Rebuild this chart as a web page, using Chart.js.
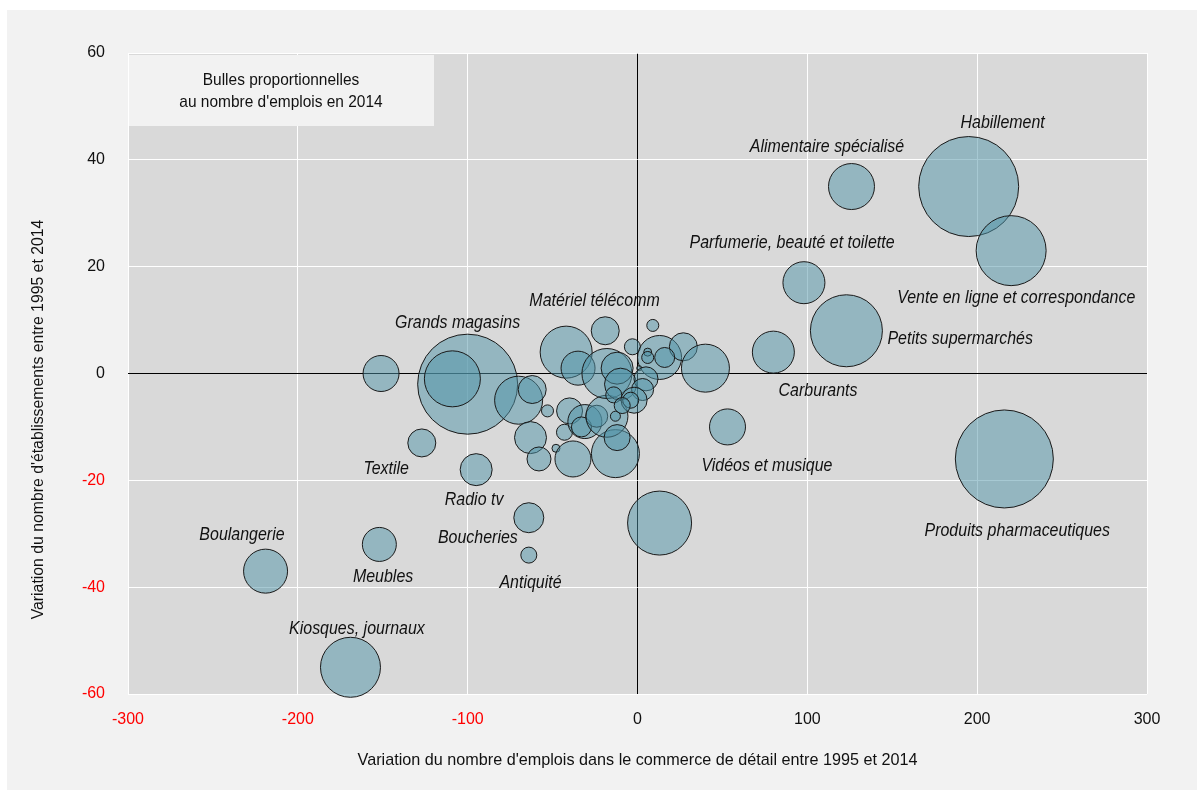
<!DOCTYPE html>
<html lang="fr">
<head>
<meta charset="utf-8">
<script src="https://cdn.jsdelivr.net/npm/chart.js@4/dist/chart.umd.min.js"></script>
<style>
	html, body { margin: 0; padding: 0; background: #ffffff; }
	#wrap { position: absolute; left: 7px; top: 10px; width: 1190px; height: 780px; background: #f2f2f2; }
</style>
</head>
<body>
<div id="wrap"><canvas id="chart" width="1190" height="780"></canvas></div>
<script>
// Variation du nombre d'emplois (x), d'établissements (y), rayon des bulles (emplois 2014)
const jobsChange = [
	195, 220, 126, 98, 123, 80, 216, 53, 13, -100, -109, -151, -127, -95, -219, -152, -169, -64, -64,
	-70, -62, -53, -63, -58, -48, -38, -13, -43, -40, -31, -33, -24, -18, -12, -13,
	-19, -42, -35, -18, -12, -10, -3, 9, 13, 27, 16, 40, 6, 6, 1, 5, 3, -2, -4, -14, -9
];
const estabChange = [
	35, 23, 35, 17, 8, 4, -16, -10, -28, -2, -1, 0, -13, -18, -37, -32, -55, -27, -34,
	-5, -3, -7, -12, -16, -14, -16, -15, -11, -7, -9, -10, -8, -8, -12, -8,
	8, 4, 1, 0, 1, -2, 5, 9, 3, 5, 3, 1, 4, 3, 1, -1, -3, -5, -5, -4, -6
];
const bubbleSize = [
	50, 35, 23, 21, 36, 21, 49, 18, 32, 50, 28, 18, 14, 16, 22, 17, 30, 15, 8,
	24, 14, 6, 16, 12, 4, 18, 24, 8, 13, 17, 10, 11, 21, 13, 5,
	14, 26, 17, 25, 16, 16, 8, 6, 22, 14, 10, 24, 4, 6, 2.5, 12, 11, 13, 8, 8, 8
];

const labelTexts = [
	'Habillement', 'Alimentaire spécialisé', 'Parfumerie, beauté et toilette',
	'Vente en ligne et correspondance', 'Petits supermarchés', 'Carburants',
	'Vidéos et musique', 'Produits pharmaceutiques', 'Matériel télécomm',
	'Grands magasins', 'Textile', 'Radio tv', 'Boulangerie', 'Boucheries',
	'Meubles', 'Antiquité', 'Kiosques, journaux'
];
const labelX = [215, 111.6, 91, 223, 190, 106.3, 76.2, 223.6, -25.3, -105.9, -148, -96.2, -232.9, -94, -149.8, -63, -165.2];
const labelY = [46.9, 42.4, 24.4, 14.1, 6.5, -3.3, -17.3, -29.4, 13.7, 9.6, -17.9, -23.7, -30.2, -30.8, -38.1, -39.2, -47.8];

const xTicks = [-300, -200, -100, 0, 100, 200, 300];
const yTicks = [-60, -40, -20, 0, 20, 40, 60];

const legendLines = ['Bulles proportionnelles', "au nombre d'emplois en 2014"];
const xTitle = "Variation du nombre d'emplois dans le commerce de détail entre 1995 et 2014";
const yTitle = "Variation du nombre d'établissements entre 1995 et 2014";

const FONT = '"Liberation Sans", Arial, sans-serif';

const points = jobsChange.map((x, i) => ({ x, y: estabChange[i], r: bubbleSize[i] }));

// bubbles must not push the plot area inwards (the layout is fixed by the padding below)
Chart.BubbleController.prototype.getMaxOverflow = function () { return 0; };

// condensed text (the original uses a narrow face)
function narrowText(ctx, text, x, y, squeeze) {
	ctx.save();
	ctx.translate(x, y);
	ctx.scale(squeeze, 1);
	ctx.fillText(text, 0, 0);
	ctx.restore();
}

const plotBackground = {
	id: 'plotBackground',
	beforeDraw(chart) {
		const { ctx, chartArea: a } = chart;
		ctx.save();
		ctx.fillStyle = '#d9d9d9';
		ctx.fillRect(a.left, a.top, a.right - a.left, a.bottom - a.top);
		ctx.restore();
	},
	beforeDatasetsDraw(chart) {
		// legend box, top-left corner of the plot
		const { ctx, chartArea: a } = chart;
		ctx.save();
		ctx.fillStyle = '#f2f2f2';
		ctx.fillRect(a.left + 1, a.top + 2, 305, 71);
		ctx.fillStyle = '#111';
		ctx.font = '17px ' + FONT;
		ctx.textAlign = 'center';
		ctx.textBaseline = 'middle';
		narrowText(ctx, legendLines[0], a.left + 153, a.top + 27, 0.91);
		narrowText(ctx, legendLines[1], a.left + 153, a.top + 49, 0.91);
		ctx.restore();
	},
	afterDraw(chart) {
		// y axis title sits a bit below the middle of the axis in the original
		const { ctx, chartArea: a } = chart;
		ctx.save();
		ctx.fillStyle = '#111';
		ctx.font = '15.8px ' + FONT;
		ctx.textAlign = 'center';
		ctx.textBaseline = 'middle';
		ctx.translate(32, (a.top + a.bottom) / 2 + 46);
		ctx.rotate(-Math.PI / 2);
		ctx.fillText(yTitle, 0, 0);
		ctx.restore();
	}
};

const bubbleLabels = {
	id: 'bubbleLabels',
	afterDatasetsDraw(chart) {
		const { ctx, scales: { x, y } } = chart;
		ctx.save();
		ctx.fillStyle = '#111';
		ctx.font = 'italic 19px ' + FONT;
		ctx.textAlign = 'center';
		ctx.textBaseline = 'middle';
		labelTexts.forEach((t, i) => {
			narrowText(ctx, t, x.getPixelForValue(labelX[i]), y.getPixelForValue(labelY[i]), 0.84);
		});
		ctx.restore();
	}
};

const tickColor = (c) => (c.tick && c.tick.value < 0 ? '#ff0000' : '#111111');
const gridColor = (c) => (c.tick && c.tick.value === 0 ? '#000000' : '#ffffff');

new Chart(document.getElementById('chart'), {
	type: 'bubble',
	data: {
		datasets: [{
			data: points,
			backgroundColor: 'rgba(79,147,167,0.5)',
			borderColor: '#1a1a1a',
			borderWidth: 1,
			hoverRadius: 0,
			clip: false
		}]
	},
	options: {
		responsive: false,
		animation: false,
		events: [],
		layout: { padding: { left: 0, top: 43, right: 50, bottom: 0 } },
		plugins: { legend: { display: false }, tooltip: { enabled: false } },
		scales: {
			x: {
				type: 'linear',
				min: -300, max: 300,
				afterBuildTicks: (s) => { s.ticks = xTicks.map(v => ({ value: v })); },
				afterFit: (s) => { s.height = 96; },
				border: { display: false },
				grid: { color: gridColor, lineWidth: 1, drawTicks: false },
				ticks: { color: tickColor, padding: 16, font: { family: FONT, size: 16 } },
				title: {
					display: true, text: xTitle, color: '#111',
					font: { family: FONT, size: 16.2 },
					padding: { top: 0, bottom: 20 }
				}
			},
			y: {
				type: 'linear',
				min: -60, max: 60,
				afterBuildTicks: (s) => { s.ticks = yTicks.map(v => ({ value: v })); },
				afterFit: (s) => { s.width = 121; },
				border: { display: false },
				grid: { color: gridColor, lineWidth: 1, drawTicks: false },
				ticks: { color: tickColor, padding: 23, font: { family: FONT, size: 16 } }
			}
		}
	},
	plugins: [plotBackground, bubbleLabels]
});
</script>
</body>
</html>
